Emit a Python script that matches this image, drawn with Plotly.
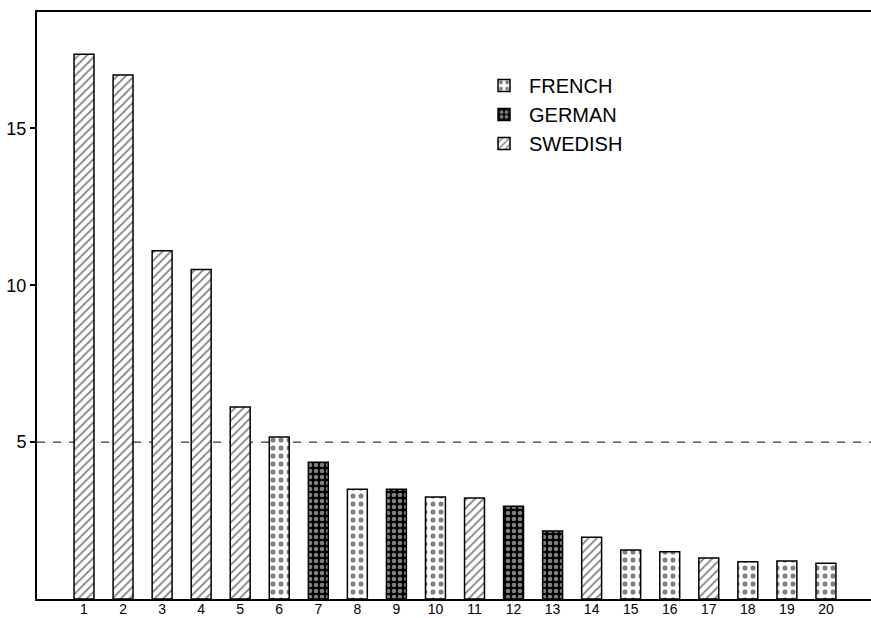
import plotly.graph_objects as go

# Data
ranks = list(range(1, 21))
values = [17.36, 16.7, 11.1, 10.5, 6.12, 5.16, 4.36, 3.5, 3.5, 3.25,
          3.22, 2.96, 2.17, 1.97, 1.56, 1.51, 1.31, 1.19, 1.21, 1.14]
languages = ["SWEDISH", "SWEDISH", "SWEDISH", "SWEDISH", "SWEDISH",
             "FRENCH", "GERMAN", "FRENCH", "GERMAN", "FRENCH",
             "SWEDISH", "GERMAN", "GERMAN", "SWEDISH", "FRENCH",
             "FRENCH", "SWEDISH", "FRENCH", "FRENCH", "FRENCH"]
series_order = ["FRENCH", "GERMAN", "SWEDISH"]
y_ticks = [5, 10, 15]
x_tick_labels = [str(r) for r in ranks]
threshold = 5

FONT = "Liberation Sans"

styles = {
    "FRENCH": dict(color="white",
                   pattern=dict(shape=".", fgcolor="black", size=8, solidity=0.32, fillmode="overlay")),
    "GERMAN": dict(color="black",
                   pattern=dict(shape=".", fgcolor="white", size=6, solidity=0.45, fillmode="overlay")),
    "SWEDISH": dict(color="white",
                    pattern=dict(shape="/", fgcolor="black", size=6, solidity=0.3, fillmode="overlay")),
}

fig = go.Figure()
for lang in series_order:
    xs = [r for r, l in zip(ranks, languages) if l == lang]
    ys = [v for v, l in zip(values, languages) if l == lang]
    st = styles[lang]
    fig.add_trace(go.Bar(
        x=xs, y=ys, name=lang, width=0.51,
        marker=dict(color=st["color"], pattern=st["pattern"],
                    line=dict(color="black", width=1.5)),
        legendgroup=lang,
    ))

fig.add_shape(type="line", xref="paper", yref="y", x0=0, x1=1, y0=threshold, y1=threshold,
              line=dict(color="black", width=1, dash="8px,8px"), layer="below")

fig.update_layout(
    width=871, height=618,
    margin=dict(l=37, r=0, t=12, b=18.5, autoexpand=False),
    paper_bgcolor="white", plot_bgcolor="white",
    barmode="overlay",
    font=dict(family=FONT, color="black"),
    showlegend=True,
    legend=dict(x=0.53, y=0.908, xanchor="left", yanchor="top",
                font=dict(size=20, family=FONT), bgcolor="rgba(0,0,0,0)",
                tracegroupgap=10, itemwidth=40, traceorder="normal"),
    xaxis=dict(range=[-0.204, 21.154], tickmode="array", tickvals=ranks,
               ticktext=x_tick_labels, ticks="", showgrid=False, zeroline=False,
               showline=True, linecolor="black", linewidth=2, mirror=True,
               automargin=False, ticklabelstandoff=-4,
               tickfont=dict(size=14, family=FONT)),
    yaxis=dict(range=[0, 18.71], tickmode="array", tickvals=y_ticks,
               ticks="outside", ticklen=5, tickwidth=1.5, tickcolor="black",
               showgrid=False, zeroline=False, showline=True, linecolor="black",
               linewidth=2, mirror=False, automargin=False,
               tickfont=dict(size=18, family=FONT)),
)

fig.write_html("out.html", config={"displayModeBar": False},
               post_script="document.body.style.margin='0px';document.body.style.overflow='hidden';")
